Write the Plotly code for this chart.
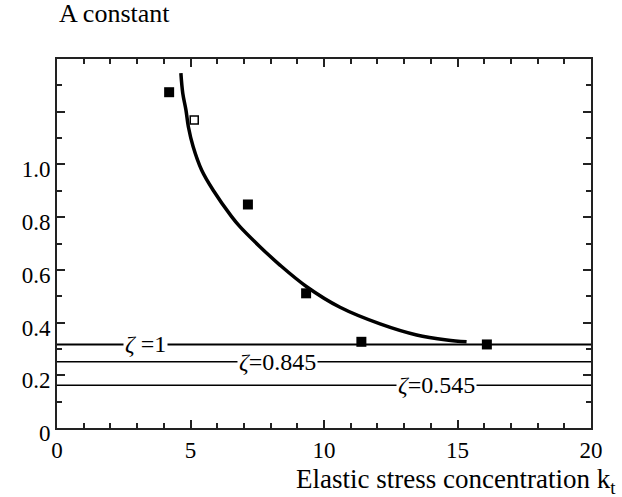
import plotly.graph_objects as go

# measured data points
pts_x = [4.2, 7.15, 9.33, 11.4, 16.1]
pts_y = [1.274, 0.848, 0.511, 0.327, 0.317]
open_x = [5.14]
open_y = [1.169]

# fitted curve
curve_x = [4.64, 4.71, 4.83, 4.92, 5.10, 5.42, 5.85, 6.54, 6.85, 7.60, 8.35, 9.35,
           10.60, 12.10, 13.47, 14.60, 15.34]
curve_y = [1.346, 1.270, 1.206, 1.143, 1.067, 0.978, 0.902, 0.802, 0.764, 0.688, 0.618,
           0.536, 0.458, 0.395, 0.353, 0.334, 0.327]

# zeta reference levels
zeta_labels = ["<i>ζ</i> =1", "<i>ζ</i>=0.845", "<i>ζ</i>=0.545"]
zeta_levels = [0.317, 0.251, 0.162]
zeta_label_x = [3.3, 8.25, 14.2]
zeta_line_width = [2, 1.5, 1.5]

y_tickvals = [0, 0.2, 0.4, 0.6, 0.8, 1.0, 1.2, 1.4]
y_ticktext = ["0", "0.2", "0.4", "0.6", "0.8", "1.0", "", ""]
x_tickvals = [0, 5, 10, 15, 20]

SERIF = "Liberation Serif, Times New Roman, serif"

fig = go.Figure()
for lvl, w in zip(zeta_levels, zeta_line_width):
    fig.add_trace(go.Scatter(x=[0, 20], y=[lvl, lvl], mode="lines",
                             line=dict(color="black", width=w), showlegend=False,
                             cliponaxis=False))
fig.add_trace(go.Scatter(x=curve_x, y=curve_y, mode="lines",
                         line=dict(color="black", width=3.5, shape="spline", smoothing=1),
                         showlegend=False))
fig.add_trace(go.Scatter(x=pts_x, y=pts_y, mode="markers",
                         marker=dict(symbol="square", size=10, color="black"),
                         showlegend=False))
fig.add_trace(go.Scatter(x=open_x, y=open_y, mode="markers",
                         marker=dict(symbol="square", size=8, color="white",
                                     line=dict(color="black", width=1.5)),
                         showlegend=False))

for lab, lvl, lx in zip(zeta_labels, zeta_levels, zeta_label_x):
    fig.add_annotation(x=lx, y=lvl, text=lab, showarrow=False, xref="x", yref="y",
                       font=dict(family=SERIF, size=24, color="black"),
                       bgcolor="white", borderpad=1)

fig.add_annotation(x=0, y=1.0, xref="paper", yref="paper", yshift=29,
                   text="A constant", showarrow=False, xanchor="left", yanchor="bottom",
                   font=dict(family=SERIF, size=26, color="black"))
fig.add_annotation(x=1.05, y=0, xref="paper", yref="paper", yshift=-34,
                   text="Elastic stress concentration k<sub>t</sub>", showarrow=False,
                   xanchor="right", yanchor="top",
                   font=dict(family=SERIF, size=27, color="black"))

axis_common = dict(showgrid=False, zeroline=False, showline=True, linecolor="#222",
                   linewidth=2, mirror="ticks", ticks="inside", tickcolor="#222",
                   tickwidth=2, ticklen=8,
                   tickfont=dict(family=SERIF, size=23, color="black"))
fig.update_xaxes(range=[0, 20], tickvals=x_tickvals,
                 minor=dict(dtick=1, ticks="inside", ticklen=5, tickcolor="#222", tickwidth=1.5),
                 **axis_common)
fig.update_yaxes(range=[0, 1.4], tickvals=y_tickvals, ticktext=y_ticktext,
                 ticklabelshift=5,
                 minor=dict(dtick=0.1, ticks="inside", ticklen=5, tickcolor="#222", tickwidth=1.5),
                 **axis_common)

fig.update_layout(width=622, height=497, margin=dict(l=57, r=31, t=59, b=69),
                  paper_bgcolor="white", plot_bgcolor="white")
fig.write_html("out.html")
